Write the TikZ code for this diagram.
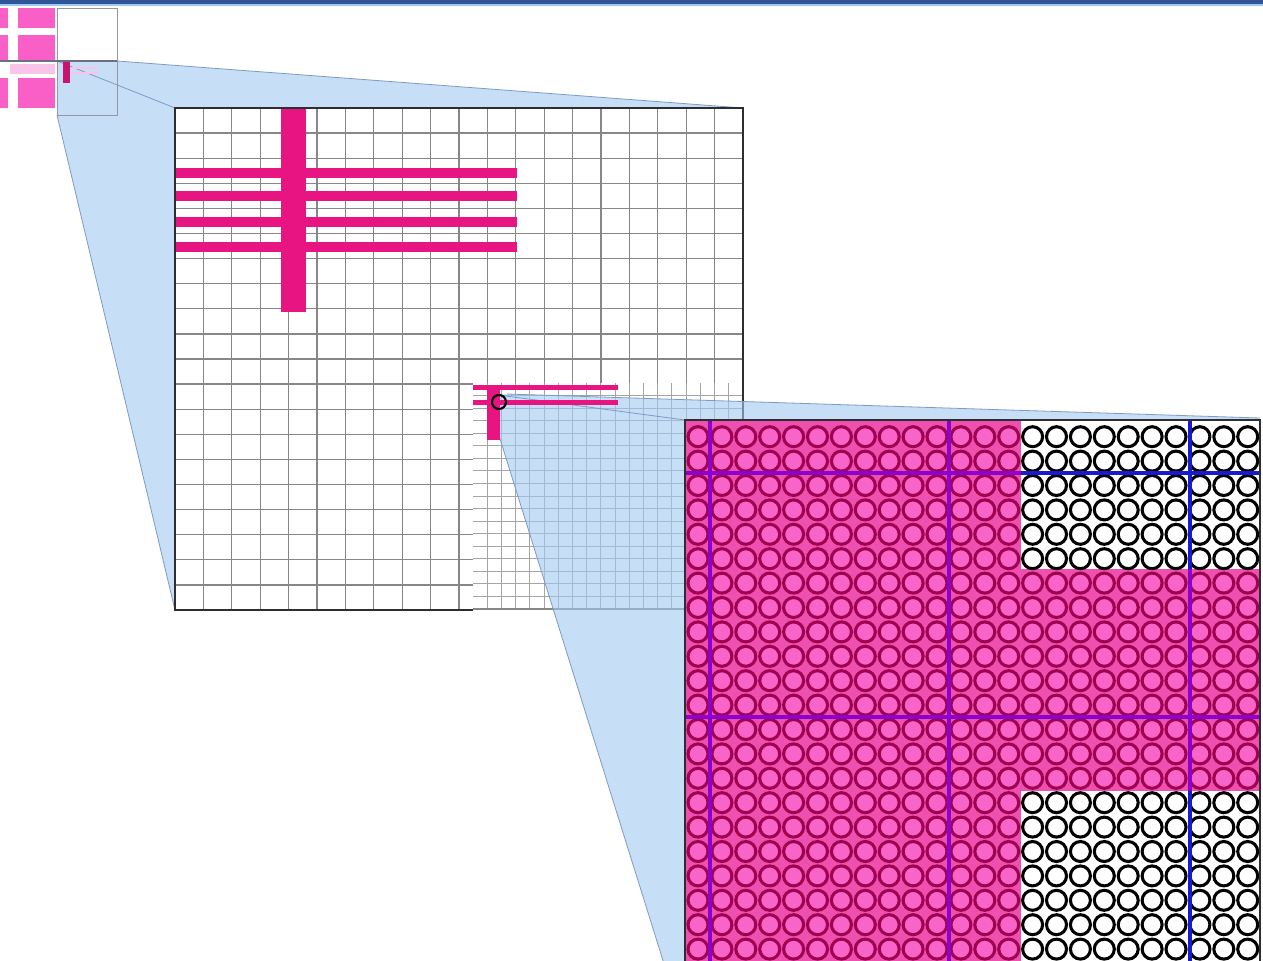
\documentclass[tikz,border=0pt]{standalone}
\usetikzlibrary{calc}
\definecolor{barblue}{RGB}{47,85,151}
\definecolor{hotpink}{RGB}{250,95,200}
\definecolor{palepink}{RGB}{250,195,232}
\definecolor{deeppink}{RGB}{232,20,130}
\definecolor{markpink}{RGB}{200,20,110}
\definecolor{projblue}{RGB}{160,200,240}
\definecolor{projedge}{RGB}{125,155,195}
\definecolor{thumbgray}{RGB}{150,150,165}
\definecolor{thumbdark}{RGB}{110,110,130}
\definecolor{gridgray}{RGB}{135,135,135}
\definecolor{finegray}{RGB}{165,165,165}
\definecolor{borderdark}{RGB}{45,45,50}
\definecolor{cpink}{RGB}{248,100,200}
\definecolor{cbgpink}{RGB}{238,80,175}
\definecolor{cdark}{RGB}{160,0,80}
\definecolor{linepurple}{RGB}{140,0,205}
\definecolor{lineblue}{RGB}{25,25,205}
\tikzset{
  gridline/.style={draw=gridgray, line width=1pt},
  fineline/.style={draw=finegray, line width=0.6pt},
  projfill/.style={fill=projblue, fill opacity=0.6},
  projline/.style={draw=projedge, line width=0.6pt},
  pcirc/.style={fill=cpink, draw=cdark, line width=2.3pt},
  wcirc/.style={fill=white, draw=black, line width=2.3pt},
  pline/.style={draw=linepurple, line width=3pt},
  bline/.style={draw=lineblue, line width=3pt},
}
\begin{document}
\begin{tikzpicture}[x=0.75pt,y=-0.75pt]
\useasboundingbox (0,0) rectangle (1263,960);
\fill[white] (0,0) rectangle (1263,960);
\begin{scope}
\clip (0,0) rectangle (1263,960);
% top bar
\fill[barblue] (0,0) rectangle (1263,4);
\draw[projblue, line width=0.8pt] (0,5) -- (1263,5);
% top-left thumbnail
\fill[hotpink] (0,8) rectangle (8,28);
\fill[hotpink] (18,8) rectangle (55,28);
\fill[hotpink] (0,35) rectangle (8,60);
\fill[hotpink] (18,35) rectangle (55,60);
\fill[hotpink] (0,78) rectangle (8,108);
\fill[hotpink] (18,78) rectangle (55,108);
\fill[palepink] (10,64) rectangle (55,74);
% projection 1
\coordinate (s1a) at (57,61);
\coordinate (s1b) at (117,61);
\coordinate (s1c) at (57,115);
\coordinate (t1a) at (175,108);
\coordinate (t1b) at (743,108);
\coordinate (t1c) at (175,610);
\fill[projfill] (s1a) -- (s1b) -- (t1b) -- (t1c) -- (s1c) -- cycle;
\draw[projline] (s1b) -- (t1b);
\draw[projline] (s1c) -- (t1c);
\draw[projline] (s1a) -- (t1a);
\draw[draw=thumbgray, line width=0.7pt] (57,8) rectangle (117,115);
\draw[draw=thumbdark, line width=0.8pt] (0,61) -- (117,61);
\fill[markpink] (63,62) rectangle (70,83);
\draw[palepink, line width=1pt] (72,68) -- (98,68);
\draw[palepink, line width=1pt] (72,73) -- (98,73);
% main grid
\fill[white] (t1a) rectangle (743,610);
\foreach \i in {1,...,19} {
  \draw[gridline] ({175+\i*28.4},108) -- ({175+\i*28.4},610);
  \draw[gridline] (175,{108+\i*25.1}) -- (743,{108+\i*25.1});
}
\fill[deeppink] (175,168) rectangle (517,178);
\fill[deeppink] (175,191) rectangle (517,201);
\fill[deeppink] (175,217) rectangle (517,227);
\fill[deeppink] (175,242) rectangle (517,252);
\fill[deeppink] (281,108) rectangle (306,312);
\draw[draw=borderdark, line width=2.2pt] (t1a) rectangle (743,610);
% inset with finer grid
\fill[white] (473,383) rectangle (743,612);
\foreach \i in {1,...,19} {
  \draw[fineline] ({473+\i*14.2},383) -- ({473+\i*14.2},609);
}
\foreach \i in {1,...,17} {
  \draw[fineline] (473,{383+\i*12.55}) -- (743,{383+\i*12.55});
}
\draw[draw=gridgray, line width=1.6pt] (473,609) -- (743,609);
\draw[draw=borderdark, line width=2.2pt] (743,383) -- (743,425);
% projection 2
\coordinate (s2a) at (491,394);
\coordinate (s2b) at (507,394);
\coordinate (s2c) at (491,410);
\coordinate (t2a) at (685,420);
\coordinate (t2b) at (1260,418);
\coordinate (t2c) at (685,1031);
\fill[projfill] (s2a) -- (s2b) -- (t2b) -- (t2c) -- (s2c) -- cycle;
\draw[projline] (s2b) -- (t2b);
\draw[projline] (s2c) -- (t2c);
\draw[projline] (s2a) -- (t2a);
% small T in the inset
\fill[deeppink] (473,385) rectangle (618,390);
\fill[deeppink] (473,400) rectangle (618,405);
\fill[deeppink] (487,388) rectangle (500,440);
\draw[black, line width=1.6pt] (499,402) circle (7);
% zoomed panel
\begin{scope}
\clip (685,420) rectangle (1260,1040);
\fill[cbgpink] (685,420) rectangle (1260,1040);
\fill[white] (1021,420) rectangle (1260,569);
\fill[white] (1021,791) rectangle (1260,1040);
\foreach \c in {0,...,23} {
  \foreach \r in {0,...,22} {
    \pgfmathtruncatemacro{\w}{and(\c>13, or(\r<6, \r>14))}
    \ifnum\w=1
      \draw[wcirc] ({698+\c*23.9},{436.7+\r*24.4}) circle (10);
    \else
      \draw[pcirc] ({698+\c*23.9},{436.7+\r*24.4}) circle (10);
    \fi
  }
}
\draw[pline] (710,420) -- (710,1040);
\draw[pline] (949,420) -- (949,1040);
\draw[bline] (1190,420) -- (1190,569);
\draw[pline] (1190,569) -- (1190,791);
\draw[bline] (1190,791) -- (1190,1040);
\draw[pline] (685,473) -- (1021,473);
\draw[bline] (1021,473) -- (1260,473);
\draw[pline] (685,717) -- (1260,717);
\end{scope}
\draw[draw=borderdark, line width=2.2pt] (t2a) rectangle (1260,1040);
\end{scope}
\end{tikzpicture}
\end{document}
